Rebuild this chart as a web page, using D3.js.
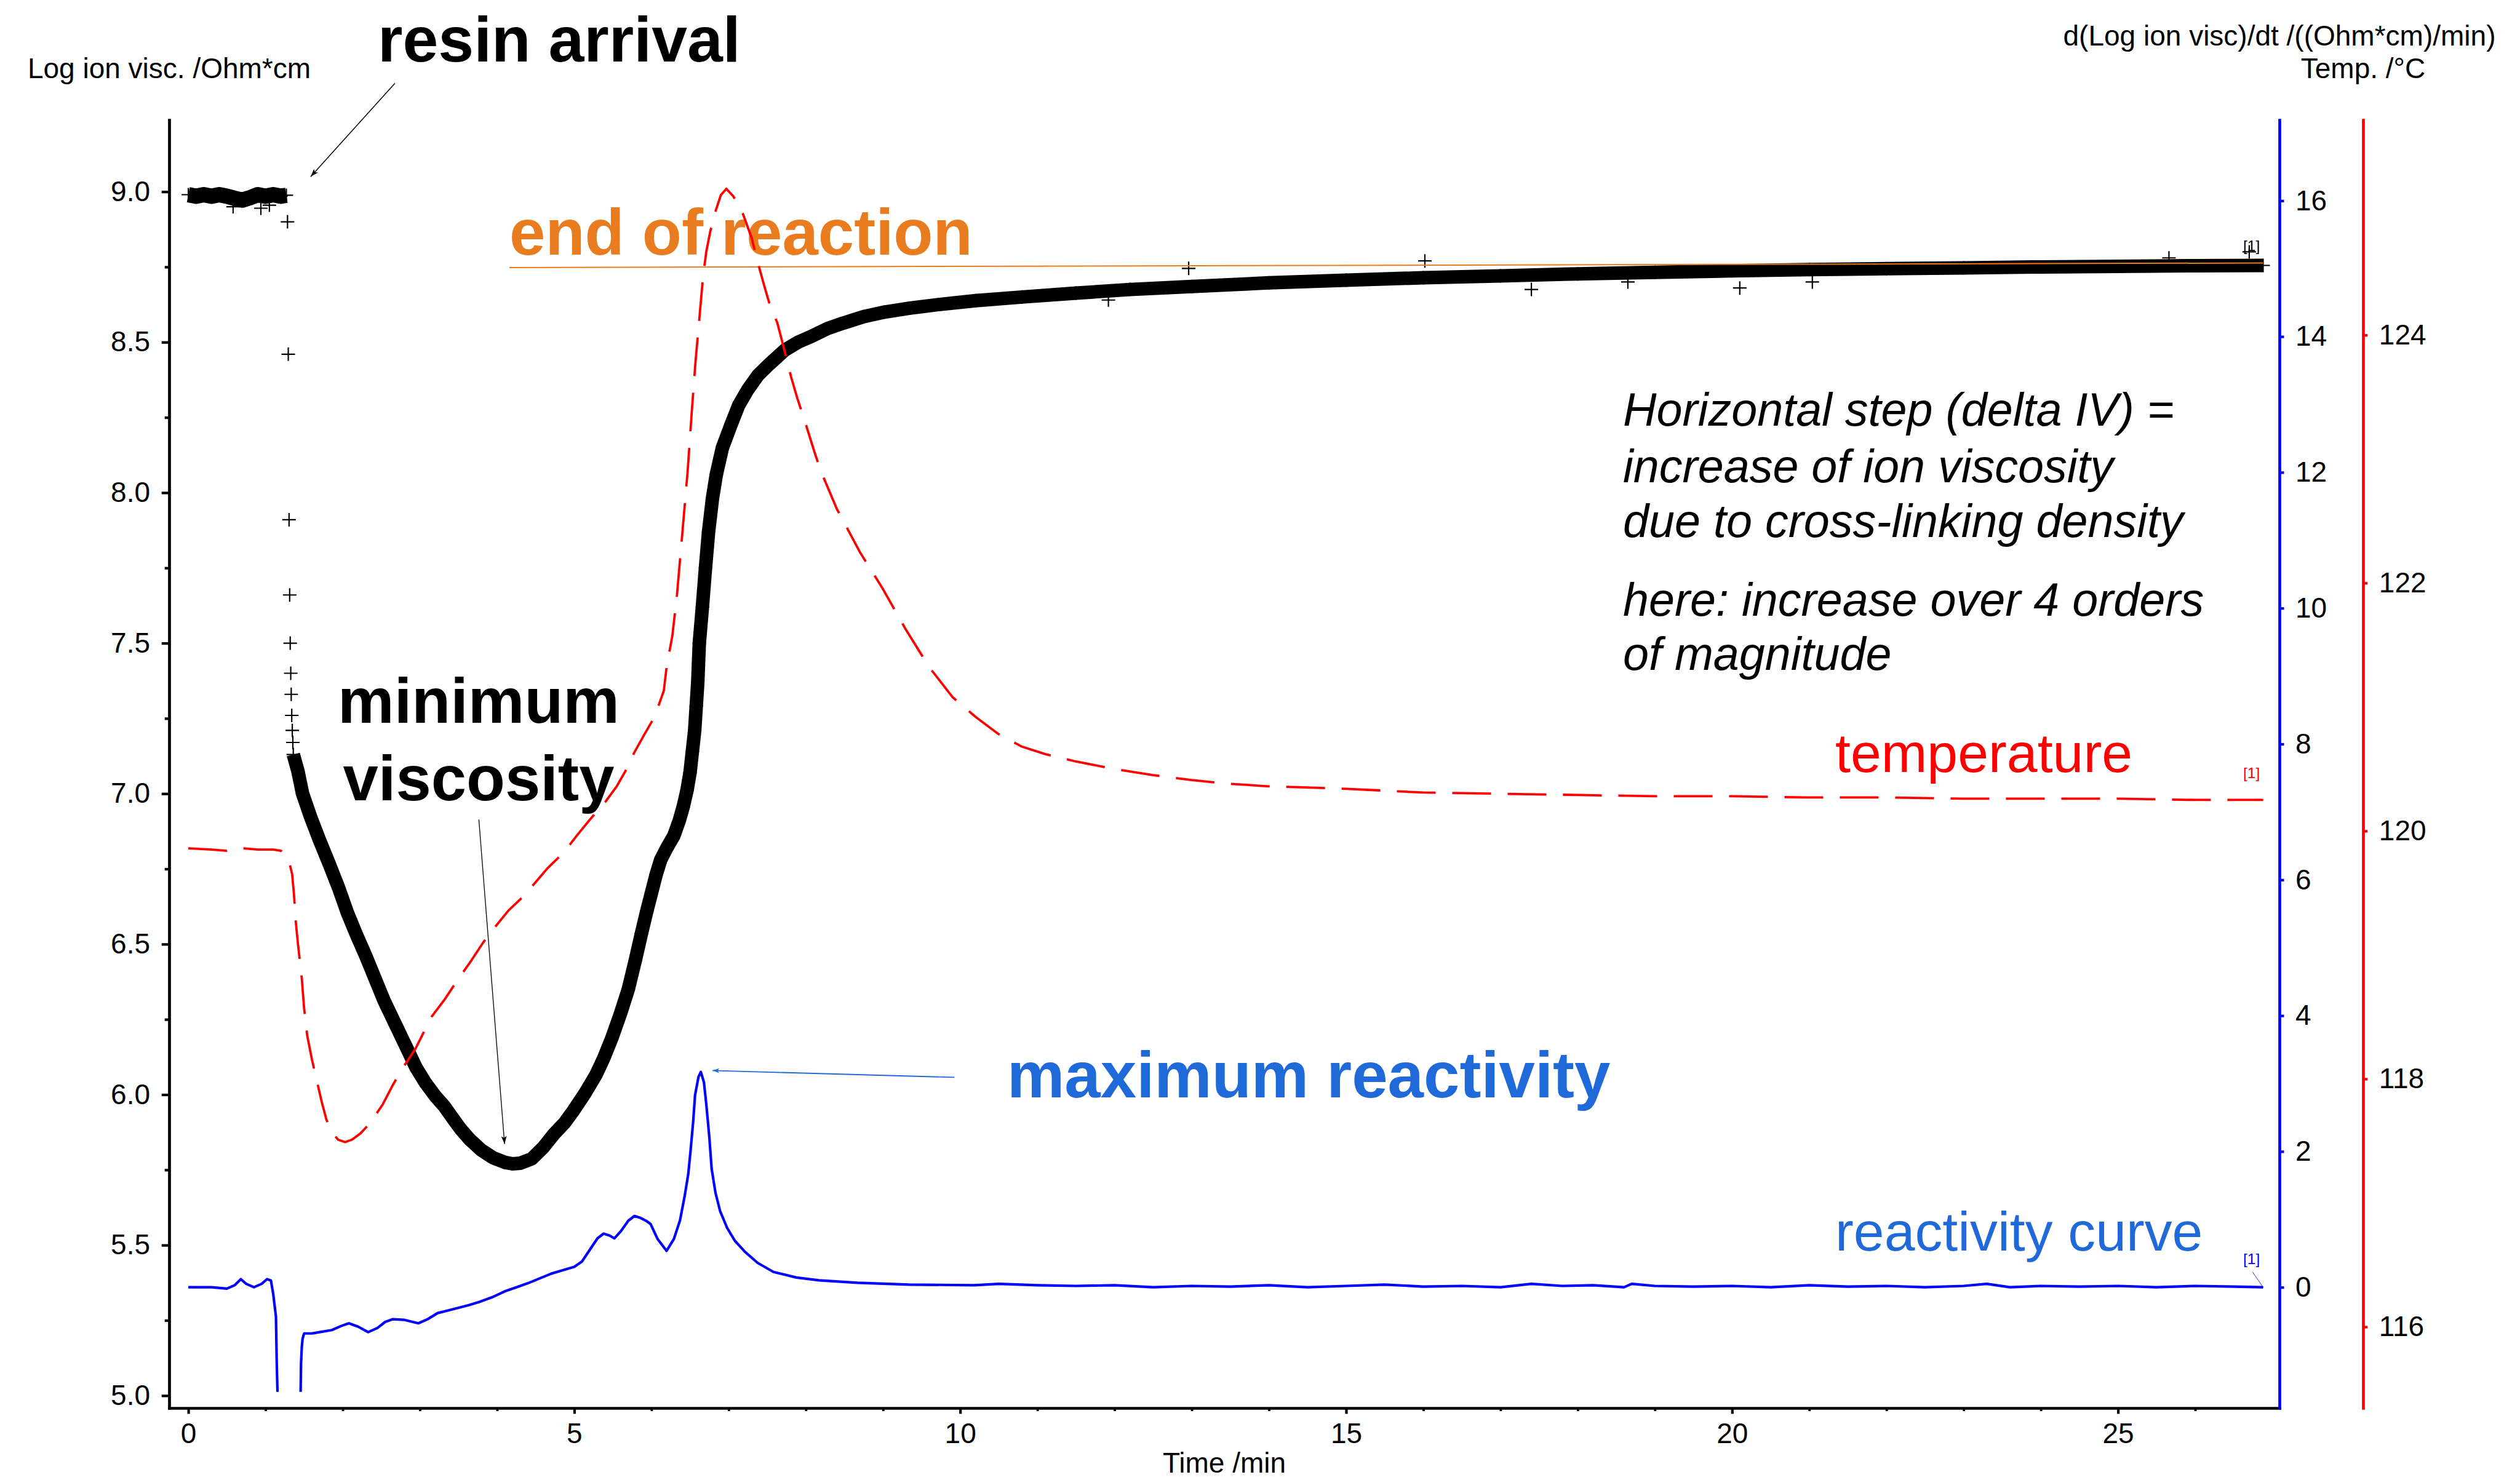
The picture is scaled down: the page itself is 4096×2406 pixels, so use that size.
<!DOCTYPE html>
<html lang="en">
<head>
<meta charset="utf-8">
<title>Cure monitoring: ion viscosity, reactivity and temperature</title>
<script src="https://cdn.jsdelivr.net/npm/d3@7/dist/d3.min.js"></script>
<style>
  html, body { margin: 0; padding: 0; background: #ffffff; }
  svg { display: block; }
  text { font-family: "Liberation Sans", Arial, Helvetica, sans-serif; }
</style>
</head>
<body>
<svg id="chart" width="4096" height="2406" viewBox="0 0 4096 2406"></svg>
<script>
// ---------------------------------------------------------------- data
// time axis (min)
const timeTicks = [0, 5, 10, 15, 20, 25];
const timeMinorTicks = [1, 2, 3, 4, 6, 7, 8, 9, 11, 12, 13, 14, 16, 17, 18, 19, 21, 22, 23, 24, 26];
// log ion viscosity axis (Ohm*cm)
const viscTicks = [5.0, 5.5, 6.0, 6.5, 7.0, 7.5, 8.0, 8.5, 9.0];
const viscMinorTicks = [5.25, 5.75, 6.25, 6.75, 7.25, 7.75, 8.25, 8.75];
// d(log ion visc)/dt axis and temperature axis
const slopeTicks = [0, 2, 4, 6, 8, 10, 12, 14, 16];
const tempTicks = [116, 118, 120, 122, 124];

// log ion viscosity before the resin reaches the sensor  [min, log Ohm*cm]
const viscBaseline = [
  [0, 8.99], [0.1, 8.985], [0.2, 8.99], [0.3, 8.985], [0.4, 8.99], [0.5, 8.985],
  [0.6, 8.978], [0.7, 8.972], [0.8, 8.98], [0.9, 8.99], [1.0, 8.985], [1.1, 8.99],
  [1.2, 8.985], [1.27, 8.988]
];
// single readings while the resin front passes
const viscArrival = [
  [1.285, 8.90], [1.295, 8.46], [1.305, 7.91], [1.313, 7.66], [1.32, 7.50],
  [1.327, 7.40], [1.333, 7.33], [1.34, 7.26], [1.347, 7.21], [1.354, 7.17]
];
// log ion viscosity during flow, gelation and cure
const viscCure = [
  [1.36, 7.13], [1.42, 7.075], [1.48, 7.0], [1.585, 6.922], [1.7, 6.845], [1.82, 6.77],
  [1.95, 6.685], [2.06, 6.605], [2.18, 6.53], [2.3, 6.46], [2.42, 6.385], [2.54, 6.31],
  [2.68, 6.235], [2.83, 6.155], [2.95, 6.09], [3.07, 6.04], [3.2, 5.995], [3.32, 5.96],
  [3.43, 5.92], [3.53, 5.885], [3.65, 5.85], [3.8, 5.815], [3.95, 5.79], [4.1, 5.775],
  [4.2, 5.77], [4.3, 5.772], [4.45, 5.787], [4.6, 5.825], [4.74, 5.87], [4.87, 5.905],
  [4.99, 5.947], [5.14, 6.005], [5.28, 6.065], [5.38, 6.12], [5.49, 6.19], [5.6, 6.27],
  [5.7, 6.35], [5.79, 6.445], [5.87, 6.535], [5.94, 6.61], [6.0, 6.67], [6.06, 6.73],
  [6.12, 6.78], [6.2, 6.82], [6.29, 6.86], [6.36, 6.91], [6.41, 6.955], [6.46, 7.01],
  [6.5, 7.07], [6.53, 7.14], [6.56, 7.21], [6.58, 7.29], [6.6, 7.37], [6.62, 7.5],
  [6.66, 7.62], [6.7, 7.75], [6.74, 7.87], [6.79, 7.98], [6.84, 8.06], [6.92, 8.15],
  [7.03, 8.225], [7.13, 8.29], [7.25, 8.343], [7.38, 8.39], [7.52, 8.425], [7.73, 8.474],
  [7.9, 8.5], [8.08, 8.52], [8.28, 8.545], [8.48, 8.563], [8.75, 8.585], [9.02, 8.6],
  [9.35, 8.613], [9.72, 8.625], [10.2, 8.638], [10.8, 8.65], [11.5, 8.663], [12.2, 8.675],
  [13, 8.685], [14, 8.697], [15, 8.706], [16, 8.714], [17, 8.72], [18, 8.727],
  [19, 8.732], [20, 8.737], [21, 8.741], [22, 8.744], [23, 8.747], [24, 8.75],
  [25, 8.752], [26, 8.754], [26.88, 8.755]
];
// readings that scatter off the main trace
const viscOutliers = [
  [0.58, 8.95], [0.94, 8.945], [1.05, 8.955], [11.92, 8.64], [12.96, 8.745],
  [16.02, 8.77], [17.4, 8.675], [18.65, 8.70], [20.1, 8.68], [21.04, 8.70],
  [25.66, 8.78], [26.7, 8.80]
];

// reactivity curve d(log ion visc)/dt  [min, (Ohm*cm)/min]; null = off scale
const slopeSeries = [
  [0, 0.0], [0.3, 0.0], [0.5, -0.02], [0.6, 0.03], [0.68, 0.12], [0.75, 0.05],
  [0.85, 0.0], [0.95, 0.05], [1.02, 0.12], [1.07, 0.10], [1.10, -0.10], [1.135, -0.43],
  [1.145, -1.08], [1.155, -1.54], [1.3, null], [1.455, -1.54], [1.46, -1.13],
  [1.47, -0.88], [1.48, -0.76], [1.5, -0.68], [1.6, -0.68], [1.7, -0.66], [1.86, -0.63],
  [1.98, -0.57], [2.08, -0.53], [2.2, -0.58], [2.33, -0.66], [2.45, -0.6], [2.55, -0.51],
  [2.65, -0.47], [2.8, -0.48], [2.98, -0.53], [3.1, -0.47], [3.23, -0.38], [3.37, -0.34],
  [3.51, -0.30], [3.64, -0.26], [3.77, -0.215], [3.95, -0.14], [4.1, -0.06], [4.25, 0.0],
  [4.4, 0.06], [4.55, 0.13], [4.7, 0.2], [4.85, 0.25], [5.0, 0.3], [5.1, 0.38],
  [5.2, 0.55], [5.3, 0.72], [5.38, 0.79], [5.46, 0.76], [5.52, 0.72], [5.6, 0.82],
  [5.7, 0.98], [5.78, 1.05], [5.86, 1.02], [5.93, 0.98], [5.99, 0.93], [6.08, 0.71],
  [6.196, 0.537], [6.29, 0.71], [6.37, 0.985], [6.43, 1.34], [6.476, 1.66], [6.505, 1.99],
  [6.54, 2.43], [6.565, 2.83], [6.61, 3.10], [6.64, 3.17], [6.68, 3.02], [6.71, 2.70],
  [6.75, 2.21], [6.78, 1.745], [6.83, 1.39], [6.89, 1.12], [6.98, 0.876], [7.08, 0.686],
  [7.21, 0.524], [7.375, 0.36], [7.58, 0.226], [7.88, 0.143], [8.17, 0.103], [8.67, 0.066],
  [9.34, 0.04], [10.18, 0.03], [10.5, 0.05], [11, 0.03], [11.5, 0.02], [12, 0.03],
  [12.5, 0.0], [13, 0.02], [13.5, 0.01], [14, 0.03], [14.5, 0.0], [15, 0.02],
  [15.5, 0.04], [16, 0.01], [16.5, 0.02], [17, 0.0], [17.4, 0.05], [17.8, 0.02],
  [18.2, 0.03], [18.6, 0.0], [18.7, 0.05], [19, 0.02], [19.5, 0.01], [20, 0.02],
  [20.5, 0.0], [21, 0.03], [21.5, 0.01], [22, 0.02], [22.5, 0.0], [23, 0.02],
  [23.3, 0.05], [23.6, 0.0], [24, 0.02], [24.5, 0.01], [25, 0.02], [25.5, 0.0],
  [26, 0.02], [26.5, 0.01], [26.88, 0.0]
];

// mould temperature  [min, °C]
const tempSeries = [
  [0, 119.86], [0.3, 119.85], [0.5, 119.84], [0.7, 119.86], [0.9, 119.85], [1.1, 119.85],
  [1.2, 119.84], [1.3, 119.77], [1.345, 119.65], [1.37, 119.48], [1.39, 119.28],
  [1.42, 119.09], [1.47, 118.81], [1.5, 118.57], [1.54, 118.35], [1.6, 118.16],
  [1.67, 117.97], [1.73, 117.81], [1.79, 117.67], [1.86, 117.57], [1.94, 117.51],
  [2.03, 117.49], [2.12, 117.51], [2.23, 117.56], [2.35, 117.64], [2.52, 117.795],
  [2.64, 117.94], [2.77, 118.08], [2.94, 118.24], [3.15, 118.5], [3.32, 118.64],
  [3.48, 118.79], [3.65, 118.94], [3.82, 119.1], [3.98, 119.23], [4.15, 119.36],
  [4.32, 119.46], [4.49, 119.58], [4.655, 119.7], [4.87, 119.83], [5.03, 119.96],
  [5.2, 120.09], [5.41, 120.24], [5.55, 120.36], [5.66, 120.48], [5.78, 120.635],
  [5.91, 120.78], [6.04, 120.92], [6.16, 121.13], [6.2, 121.34], [6.27, 121.57],
  [6.33, 121.9], [6.4, 122.4], [6.47, 122.91], [6.52, 123.36], [6.57, 123.78],
  [6.63, 124.2], [6.67, 124.48], [6.71, 124.67], [6.76, 124.83], [6.82, 124.98],
  [6.9, 125.13], [6.97, 125.18], [7.06, 125.12], [7.14, 125.03], [7.19, 124.97],
  [7.3, 124.78], [7.38, 124.58], [7.46, 124.4], [7.54, 124.23], [7.63, 124.1],
  [7.73, 123.86], [7.81, 123.66], [7.89, 123.49], [8.0, 123.28], [8.11, 123.06],
  [8.19, 122.91], [8.4, 122.6], [8.7, 122.25], [9.0, 121.95], [9.3, 121.62],
  [9.6, 121.32], [9.9, 121.08], [10.2, 120.92], [10.5, 120.78], [10.8, 120.68],
  [11.1, 120.62], [11.5, 120.56], [12, 120.5], [12.5, 120.45], [13, 120.41],
  [13.5, 120.38], [14, 120.36], [15, 120.34], [16, 120.31], [17, 120.3], [18, 120.29],
  [19, 120.28], [20, 120.28], [21, 120.27], [22, 120.27], [23, 120.26], [24, 120.26],
  [25, 120.26], [26, 120.25], [26.88, 120.25]
];

// ---------------------------------------------------------------- layout
const FONT = '"Liberation Sans", Arial, Helvetica, sans-serif';
const svg = d3.select("#chart");

const plotLeft = 275, plotRight = 3705, plotTop = 195, plotBottom = 2289;
const tempAxisX = 3841;

// linear scale fixed by two reference values, extended to the plot frame
function frameScale(v0, p0, v1, p1, lo, hi) {
  const s = d3.scaleLinear().domain([v0, v1]).range([p0, p1]);
  return d3.scaleLinear().domain([s.invert(lo), s.invert(hi)]).range([lo, hi]);
}
const x  = frameScale(0, 306.1, 25, 3442.6, plotLeft, plotRight);
const yL = frameScale(5, 2268.8, 9, 311.6, plotBottom, plotTop);
const yB = frameScale(0, 2092.7, 16, 326.3, plotBottom, plotTop);
const yT = frameScale(116, 2157.0, 124, 544.7, plotBottom, plotTop);

const C_BLUE = "#0000ff", C_RED = "#ff0000", C_ORANGE = "#e87c1e", C_NOTE_BLUE = "#1f69d8";

// ---------------------------------------------------------------- defs
const defs = svg.append("defs");
function arrowHead(id, color, len, half) {
  defs.append("marker")
    .attr("id", id)
    .attr("markerUnits", "userSpaceOnUse")
    .attr("viewBox", `${-len} ${-half} ${len} ${2 * half}`)
    .attr("markerWidth", len).attr("markerHeight", 2 * half)
    .attr("refX", 0).attr("refY", 0)
    .attr("orient", "auto")
    .append("path")
    .attr("d", `M0,0L${-len},${-half}L${-len * 0.75},0L${-len},${half}Z`)
    .attr("fill", color);
}
arrowHead("head-black", "#000", 13, 4.5);
arrowHead("head-blue", C_NOTE_BLUE, 11, 4);

// ---------------------------------------------------------------- axes
function styleAxis(g, lineColor) {
  g.attr("font-size", 46).attr("font-family", FONT);
  g.select(".domain").attr("stroke", lineColor).attr("stroke-width", 4.7).attr("stroke-linecap", "square");
  g.selectAll(".tick line").attr("stroke", lineColor).attr("stroke-width", 4.2);
  g.selectAll(".tick text").attr("fill", "#000");
}

// left: log ion viscosity
const gL = svg.append("g").attr("transform", `translate(${plotLeft},0)`)
  .call(d3.axisLeft(yL).tickValues(viscTicks).tickFormat(d3.format(".1f"))
    .tickSize(12.3).tickSizeOuter(0).tickPadding(18.7));
styleAxis(gL, "#000");
const gLm = svg.append("g").attr("transform", `translate(${plotLeft},0)`)
  .call(d3.axisLeft(yL).tickValues(viscMinorTicks).tickFormat("").tickSize(7.3).tickSizeOuter(0));
gLm.select(".domain").remove();
gLm.selectAll(".tick line").attr("stroke", "#000").attr("stroke-width", 4.2);

// bottom: time
const gX = svg.append("g").attr("transform", `translate(0,${plotBottom})`)
  .call(d3.axisBottom(x).tickValues(timeTicks).tickFormat(d3.format("d"))
    .tickSize(9.4).tickSizeOuter(0));
styleAxis(gX, "#000");
gX.selectAll(".tick text").attr("y", 57).attr("dy", "0");
const gXm = svg.append("g").attr("transform", `translate(0,${plotBottom})`)
  .call(d3.axisBottom(x).tickValues(timeMinorTicks).tickFormat("").tickSize(5).tickSizeOuter(0));
gXm.select(".domain").remove();
gXm.selectAll(".tick line").attr("stroke", "#000").attr("stroke-width", 3.8);

// right: reactivity (blue)
const gB = svg.append("g").attr("transform", `translate(${plotRight},0)`)
  .call(d3.axisRight(yB).tickValues(slopeTicks).tickFormat(d3.format("d"))
    .tickSize(7.5).tickSizeOuter(0).tickPadding(18.5));
styleAxis(gB, C_BLUE);

// far right: temperature (red)
const gT = svg.append("g").attr("transform", `translate(${tempAxisX},0)`)
  .call(d3.axisRight(yT).tickValues(tempTicks).tickFormat(d3.format("d"))
    .tickSize(7.3).tickSizeOuter(0).tickPadding(18.5));
styleAxis(gT, C_RED);

// axis titles
const titles = svg.append("g").attr("font-family", FONT).attr("font-size", 46).attr("fill", "#000");
titles.append("text").attr("x", plotLeft).attr("y", 127.3).attr("text-anchor", "middle").text("Log ion visc. /Ohm*cm");
titles.append("text").attr("x", plotRight).attr("y", 73.5).attr("text-anchor", "middle").text("d(Log ion visc)/dt /((Ohm*cm)/min)");
titles.append("text").attr("x", tempAxisX).attr("y", 127.3).attr("text-anchor", "middle").text("Temp. /°C");
titles.append("text").attr("x", (plotLeft + plotRight) / 2).attr("y", 2394).attr("text-anchor", "middle").text("Time /min");

// ---------------------------------------------------------------- ion viscosity trace
const plot = svg.append("g");
const viscLine = d3.line().x(d => x(d[0])).y(d => yL(d[1]));

// dense readings merge into a solid band
plot.append("path").datum(viscBaseline).attr("d", viscLine)
  .attr("fill", "none").attr("stroke", "#000").attr("stroke-width", 25).attr("stroke-linejoin", "round");
plot.append("path").datum(viscCure).attr("d", viscLine)
  .attr("fill", "none").attr("stroke", "#000").attr("stroke-width", 22).attr("stroke-linejoin", "round");

// "+" symbol for every reading
const arm = 11;
const crossPath = `M${-arm},0H${arm}M0,${-arm}V${arm}`;
plot.selectAll("path.reading")
  .data([].concat(viscBaseline, viscArrival, viscCure, viscOutliers))
  .join("path")
  .attr("class", "reading")
  .attr("transform", d => `translate(${x(d[0])},${yL(d[1])})`)
  .attr("d", crossPath)
  .attr("fill", "none").attr("stroke", "#000").attr("stroke-width", 2.2);

// ---------------------------------------------------------------- annotations (under the curves)
const notes = svg.append("g").attr("font-family", FONT);

// end of reaction level
const endLevel = [[4.16, 8.748], [26.88, 8.763]];
notes.append("path").datum(endLevel).attr("d", viscLine)
  .attr("fill", "none").attr("stroke", C_ORANGE).attr("stroke-width", 2);
notes.append("text").attr("x", x(endLevel[0][0])).attr("y", 414)
  .attr("font-size", 105).attr("font-weight", "bold").attr("fill", C_ORANGE).text("end of reaction");

notes.append("text").attr("x", 614).attr("y", 99.7)
  .attr("font-size", 104).attr("font-weight", "bold").attr("fill", "#000").text("resin arrival");

const minLabel = notes.append("text").attr("font-size", 103).attr("font-weight", "bold")
  .attr("fill", "#000").attr("text-anchor", "middle");
minLabel.append("tspan").attr("x", 778).attr("y", 1174.6).text("minimum");
minLabel.append("tspan").attr("x", 778).attr("y", 1300.7).text("viscosity");

notes.append("text").attr("x", 1637).attr("y", 1783.7)
  .attr("font-size", 105).attr("font-weight", "bold").attr("fill", C_NOTE_BLUE).text("maximum reactivity");

notes.append("text").attr("x", 2983).attr("y", 2033)
  .attr("font-size", 89.6).attr("fill", C_NOTE_BLUE).text("reactivity curve");
notes.append("text").attr("x", 2983).attr("y", 1255)
  .attr("font-size", 89.6).attr("fill", C_RED).text("temperature");

const explain = [
  ["Horizontal step (delta IV) =", 692],
  ["increase of ion viscosity", 783.5],
  ["due to cross-linking density", 872.5],
  ["here: increase over 4 orders", 1000.5],
  ["of magnitude", 1089]
];
notes.selectAll("text.explain").data(explain).join("text")
  .attr("class", "explain")
  .attr("x", 2638).attr("y", d => d[1])
  .attr("font-size", 75.5).attr("font-style", "italic").attr("fill", "#000")
  .text(d => d[0]);

// ---------------------------------------------------------------- reactivity curve
const slopeLine = d3.line().defined(d => d[1] !== null).x(d => x(d[0])).y(d => yB(d[1]));
svg.append("path").datum(slopeSeries).attr("d", slopeLine)
  .attr("fill", "none").attr("stroke", C_BLUE).attr("stroke-width", 4.2)
  .attr("stroke-linejoin", "round");

// ---------------------------------------------------------------- temperature curve
const tempLine = d3.line().x(d => x(d[0])).y(d => yT(d[1]));
svg.append("path").datum(tempSeries).attr("d", tempLine)
  .attr("fill", "none").attr("stroke", C_RED).attr("stroke-width", 3.8)
  .attr("stroke-dasharray", "63,27").attr("stroke-linejoin", "round");

// ---------------------------------------------------------------- arrows
const arrows = svg.append("g").attr("fill", "none");
const resinArrow = [[2.676, 9.36], [1.585, 9.05]];
arrows.append("line")
  .attr("x1", x(resinArrow[0][0])).attr("y1", yL(resinArrow[0][1]))
  .attr("x2", x(resinArrow[1][0])).attr("y2", yL(resinArrow[1][1]))
  .attr("stroke", "#000").attr("stroke-width", 1.5).attr("marker-end", "url(#head-black)");

const minArrow = [[3.764, 6.914], [4.097, 5.836]];
arrows.append("line")
  .attr("x1", x(minArrow[0][0])).attr("y1", yL(minArrow[0][1]))
  .attr("x2", x(minArrow[1][0])).attr("y2", yL(minArrow[1][1]))
  .attr("stroke", "#000").attr("stroke-width", 1.3).attr("marker-end", "url(#head-black)");

const peakArrow = [[9.926, 3.091], [6.791, 3.192]];
arrows.append("line")
  .attr("x1", x(peakArrow[0][0])).attr("y1", yB(peakArrow[0][1]))
  .attr("x2", x(peakArrow[1][0])).attr("y2", yB(peakArrow[1][1]))
  .attr("stroke", C_NOTE_BLUE).attr("stroke-width", 1.8).attr("marker-end", "url(#head-blue)");

// ---------------------------------------------------------------- curve tags
const tags = svg.append("g").attr("font-family", FONT).attr("font-size", 24.5);
tags.append("text").attr("x", 3646).attr("y", 407.5).attr("fill", "#000").text("[1]");
tags.append("text").attr("x", 3646).attr("y", 1264.5).attr("fill", C_RED).text("[1]");
tags.append("text").attr("x", 3646).attr("y", 2055).attr("fill", C_BLUE).text("[1]");
const slopeEnd = slopeSeries[slopeSeries.length - 1];
tags.append("line")
  .attr("x1", 3661.2).attr("y1", 2067.7)
  .attr("x2", x(slopeEnd[0])).attr("y2", yB(slopeEnd[1]))
  .attr("stroke", C_BLUE).attr("stroke-width", 0.8);
</script>
</body>
</html>
